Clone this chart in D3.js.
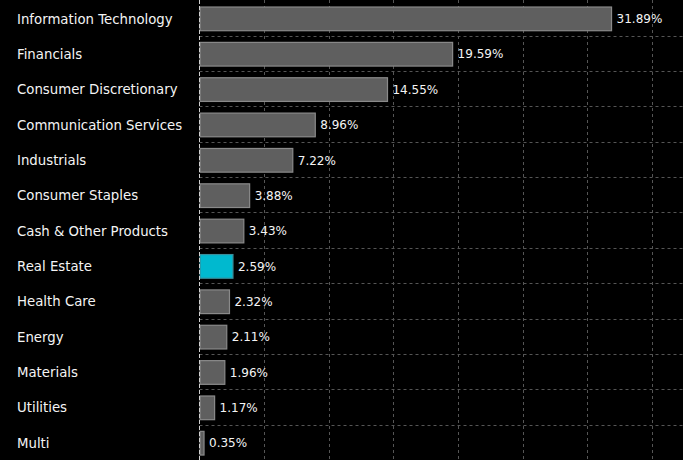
<!DOCTYPE html>
<html>
<head>
<meta charset="utf-8">
<script src="https://cdn.jsdelivr.net/npm/d3@7"></script>
<style>
html,body{margin:0;padding:0;background:#000;}
svg{display:block;}
</style>
</head>
<body>
<svg id="chart" width="683" height="460"></svg>
<script>
const categories = ["Information Technology","Financials","Consumer Discretionary","Communication Services","Industrials","Consumer Staples","Cash & Other Products","Real Estate","Health Care","Energy","Materials","Utilities","Multi"];
const values = [31.89,19.59,14.55,8.96,7.22,3.88,3.43,2.59,2.32,2.11,1.96,1.17,0.35];
const highlight = ["Real Estate"];
const xTicks = [5,10,15,20,25,30,35];

const W = 683, H = 460;
const svg = d3.select("#chart");
svg.append("rect").attr("width",W).attr("height",H).attr("fill","#000");

const x = d3.scaleLinear().domain([0, 37.42]).range([199.5, 683]);
const y = d3.scaleBand().domain(categories).range([0.3, 460]).padding(0);
const bw = y.bandwidth();

const grid = svg.append("g");
grid.selectAll("line.v").data(xTicks).join("line")
  .attr("class","v")
  .attr("x1", d => Math.round(x(d)) + 0.5).attr("x2", d => Math.round(x(d)) + 0.5)
  .attr("y1", 0).attr("y2", H)
  .attr("stroke","#555").attr("stroke-width",1).attr("stroke-dasharray","3,3");
grid.selectAll("line.h").data(categories.slice(1)).join("line")
  .attr("class","h")
  .attr("x1", x(0)).attr("x2", W)
  .attr("y1", d => Math.round(y(d)) + 0.5).attr("y2", d => Math.round(y(d)) + 0.5)
  .attr("stroke","#555").attr("stroke-width",1).attr("stroke-dasharray","3,3");

const data = categories.map((c,i) => ({c, v: values[i]}));

svg.append("g").selectAll("rect").data(data).join("rect")
  .attr("x", x(0) + 0.5)
  .attr("y", d => y(d.c) + bw*0.19)
  .attr("width", d => Math.max(0, x(d.v) - x(0) - 0.5))
  .attr("height", bw*0.67)
  .attr("fill", d => highlight.includes(d.c) ? "#00b9cf" : "#5f5f5f")
  .attr("stroke", d => highlight.includes(d.c) ? "#3a8d99" : "#8a8a8a")
  .attr("stroke-width", 1.2);

svg.append("line")
  .attr("x1", Math.round(x(0)) - 0.5).attr("x2", Math.round(x(0)) - 0.5)
  .attr("y1", 0).attr("y2", H)
  .attr("stroke","#cfcfcf").attr("stroke-width",1).attr("stroke-dasharray","4,2");

svg.append("g").selectAll("text").data(data).join("text")
  .attr("x", 17)
  .attr("y", d => y(d.c) + bw*0.19 + bw*0.335)
  .attr("dy","0.35em")
  .attr("fill","#f4f4f4")
  .attr("font-family","'DejaVu Sans', sans-serif")
  .attr("font-size", 13.3)
  .text(d => d.c);

svg.append("g").selectAll("text").data(data).join("text")
  .attr("x", d => x(d.v) + 5)
  .attr("y", d => y(d.c) + bw*0.19 + bw*0.335)
  .attr("dy","0.35em")
  .attr("fill","#f4f4f4")
  .attr("font-family","'DejaVu Sans', sans-serif")
  .attr("font-size", 12)
  .text(d => d.v.toFixed(2) + "%");
</script>
</body>
</html>
